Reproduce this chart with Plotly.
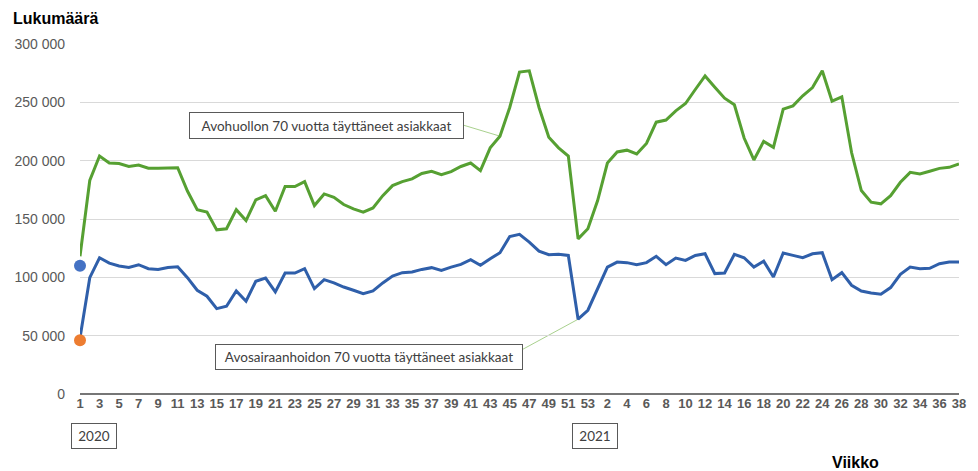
import plotly.graph_objects as go

# ---- data ----
weeks_2020 = list(range(1, 54))
weeks_2021 = list(range(1, 39))
week_labels = [str(w) for w in weeks_2020 + weeks_2021]

avohuolto = [
    118000, 183000, 204000, 198000, 197500, 195000, 196300, 193500, 193500, 193500,
    194000, 174000, 158000, 156000, 140700, 141600, 158000, 148700, 166400, 170000,
    156700, 177800, 177800, 182000, 161500, 171500, 168600, 162400, 158700, 155800,
    159500, 170000, 178600, 182000, 184400, 189000, 190900, 188000, 190600, 195000,
    198000, 191500, 211000, 221000, 245600, 276000, 277000, 245600, 220000, 211000,
    204000, 133000, 141600,
    165800, 198000, 207500, 209000, 205700, 214800, 233000, 234800, 242700, 249000,
    261000, 272600, 263000, 253600, 247900, 219400, 200600, 216500, 211400, 244200,
    247000, 255600, 262700, 277000, 251000, 254700, 207000, 174400, 164400, 163000,
    170000, 181500, 190000, 188600, 190900, 193400, 194300, 197200,
]

avosairaanhoito = [
    48000, 99700, 116800, 112200, 109700, 108500, 110800, 107400, 106800, 108500,
    109100, 99700, 88900, 83800, 73200, 75200, 88300, 79500, 96600, 99400,
    87500, 103700, 103700, 107400, 90300, 98000, 95200, 91700, 88900, 86000,
    88300, 95200, 101100, 104000, 104600, 106800, 108300, 106000, 108800, 111100,
    115100, 110300, 116000, 121100, 135000, 136800, 130200, 122500, 119400, 119700,
    118800, 64100, 71800,
    90300, 108800, 113100, 112600, 110800, 112600, 118000, 110800, 116500, 114500,
    118800, 120200, 103200, 103700, 119700, 116800, 108800, 113900, 100300, 120800,
    118800, 116800, 120200, 121100, 98000, 104000, 93200, 88300, 86600, 85500,
    91200, 102600, 108800, 107400, 107700, 111700, 113100, 113100,
]

dot_blue = [110000]
dot_orange = [46000]

y_ticks = [0, 50000, 100000, 150000, 200000, 250000, 300000]
y_tick_text = ["0", "50 000", "100 000", "150 000", "200 000", "250 000", "300 000"]

label_green = "Avohuollon 70 vuotta täyttäneet asiakkaat"
label_blue = "Avosairaanhoidon 70 vuotta täyttäneet asiakkaat"

# ---- figure ----
W, H = 978, 471
ML, MR, MT, MB = 80, 12, 44, 77
PW, PH = W - ML - MR, H - MT - MB
YMAX = 300000
x_idx = list(range(len(week_labels)))
XMAX = len(week_labels) - 1


def px2paper(px, py):
    return (px - ML) / PW, (H - MB - py) / PH


def px2data(px, py):
    return (px - ML) / PW * XMAX, (H - MB - py) / PH * YMAX


fig = go.Figure()
fig.add_trace(go.Scatter(x=x_idx, y=avohuolto, mode="lines",
                         line=dict(color="#56A032", width=3), cliponaxis=False,
                         name=label_green, hoverinfo="y"))
fig.add_trace(go.Scatter(x=x_idx, y=avosairaanhoito, mode="lines",
                         line=dict(color="#2F5FAA", width=3), cliponaxis=False,
                         name=label_blue, hoverinfo="y"))
fig.add_trace(go.Scatter(x=[0], y=dot_blue, mode="markers", cliponaxis=False,
                         marker=dict(color="#4472C4", size=12), hoverinfo="y"))
fig.add_trace(go.Scatter(x=[0], y=dot_orange, mode="markers", cliponaxis=False,
                         marker=dict(color="#ED7D31", size=12), hoverinfo="y"))

annotations = []
box_font = dict(family="Lato, Noto Sans, sans-serif", size=13.5, color="#404040")


def box(text, cx, cy, w, h):
    px, py = px2paper(cx, cy)
    annotations.append(dict(
        text=text, xref="paper", yref="paper", x=px, y=py,
        xanchor="center", yanchor="middle", showarrow=False,
        width=w - 2, height=h - 2, borderwidth=1, borderpad=0,
        bordercolor="#595959", bgcolor="white", font=box_font))


box(label_green, 328.4, 125.7, 275, 27)
box(label_blue, 371.2, 357.2, 308, 26)
box("2020", 94.5, 435.5, 46, 26)
box("2021", 599.5, 435.5, 46, 26)

lx, ly = px2paper(10, 18)
annotations.append(dict(text="<b>Lukumäärä</b>", xref="paper", yref="paper",
                        x=lx, y=ly, xanchor="left", yanchor="middle", showarrow=False,
                        font=dict(family="Liberation Sans, Arial", size=16, color="#000000")))
vx, vy = px2paper(862, 462.5)
annotations.append(dict(text="<b>Viikko</b>", xref="paper", yref="paper",
                        x=vx, y=vy, xanchor="center", yanchor="middle", showarrow=False,
                        font=dict(family="Liberation Sans, Arial", size=16, color="#000000")))

shapes = []
g0 = px2data(466, 125)
shapes.append(dict(type="line", xref="x", yref="y", x0=g0[0], y0=g0[1],
                   x1=43, y1=avohuolto[43], line=dict(color="#A9D18E", width=1), layer="below"))
b0 = px2data(525, 350)
shapes.append(dict(type="line", xref="x", yref="y", x0=b0[0], y0=b0[1],
                   x1=51, y1=avosairaanhoito[51], line=dict(color="#A9D18E", width=1), layer="below"))

fig.update_layout(
    width=W, height=H,
    margin=dict(l=ML, r=MR, t=MT, b=MB, pad=0),
    paper_bgcolor="white", plot_bgcolor="white",
    showlegend=False,
    annotations=annotations,
    shapes=shapes,
    xaxis=dict(
        range=[0, XMAX], tickmode="array", tickvals=x_idx[::2],
        ticktext=["<b>%s</b>" % t for t in week_labels[::2]],
        tickfont=dict(family="Liberation Sans, Arial", size=13, color="#595959"),
        showgrid=False, zeroline=False, showline=False, ticks="", ticklen=0,
        tickangle=0,
    ),
    yaxis=dict(
        range=[0, YMAX], tickmode="array", tickvals=y_ticks, ticktext=y_tick_text,
        tickfont=dict(family="Liberation Sans, Arial", size=14, color="#595959"),
        showgrid=True, gridcolor="#D9D9D9", gridwidth=1,
        zeroline=True, zerolinecolor="#767676", zerolinewidth=1.5,
        showline=False, ticks="", ticklabelstandoff=14,
    ),
)

fig.write_html(
    "out.html",
    config={"displayModeBar": False},
    post_script="document.body.style.margin='0';document.body.style.overflow='hidden';",
)
